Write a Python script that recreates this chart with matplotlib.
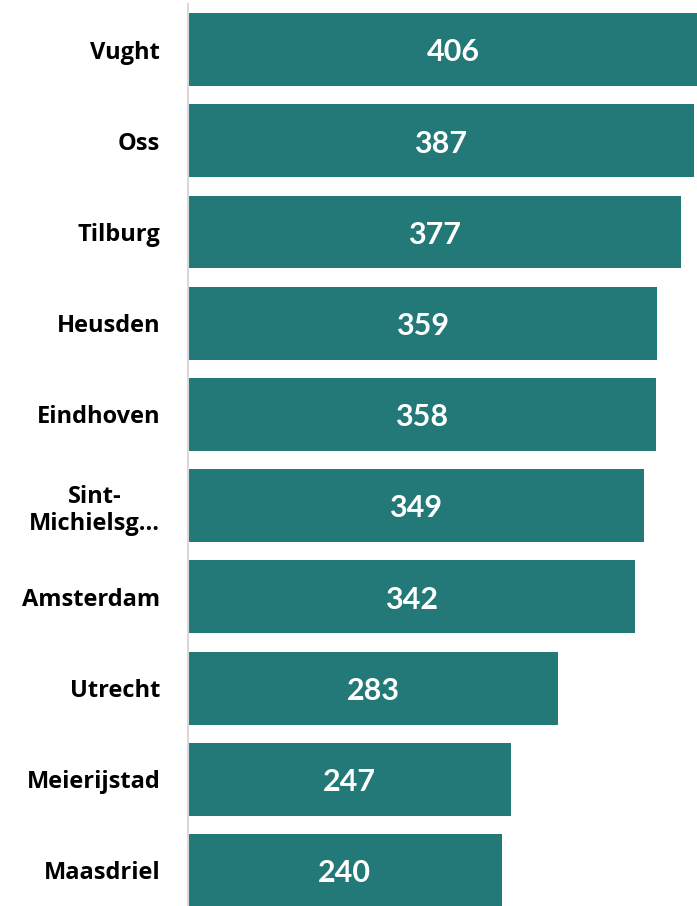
import matplotlib
matplotlib.use("Agg")
import matplotlib.pyplot as plt
import numpy as np

# data
gemeenten = ["Vught", "Oss", "Tilburg", "Heusden", "Eindhoven",
             "Sint-\nMichielsg…", "Amsterdam", "Utrecht", "Meierijstad", "Maasdriel"]
waarden = [406, 387, 377, 359, 358, 349, 342, 283, 247, 240]

bar_color = "#237878"

fig = plt.figure(figsize=(6.97, 9.06), dpi=100)
ax = fig.add_axes([188/697, 0, 509/697, 902/906])

y = np.arange(len(gemeenten))
ax.barh(y, waarden, height=0.8, color=bar_color)

ax.set_xlim(0, 389.5)
ax.set_ylim(9.39, -0.5)

# value labels in the middle of each bar
for yi, v in zip(y, waarden):
    ax.text(v / 2, yi + 0.03, str(v), ha="center", va="center",
            color="white", fontsize=22, fontweight="bold", family="Lato")

ax.set_yticks(y)
ax.set_yticklabels(gemeenten, fontsize=17, fontweight="bold",
                   family="Open Sans", multialignment="center")
ax.tick_params(axis="y", length=0, pad=20)
ax.set_xticks([])

for s in ["top", "right", "bottom"]:
    ax.spines[s].set_visible(False)
ax.spines["left"].set_color("#d9d9d9")
ax.spines["left"].set_linewidth(1.5)

fig.savefig("out.png", dpi=100)
